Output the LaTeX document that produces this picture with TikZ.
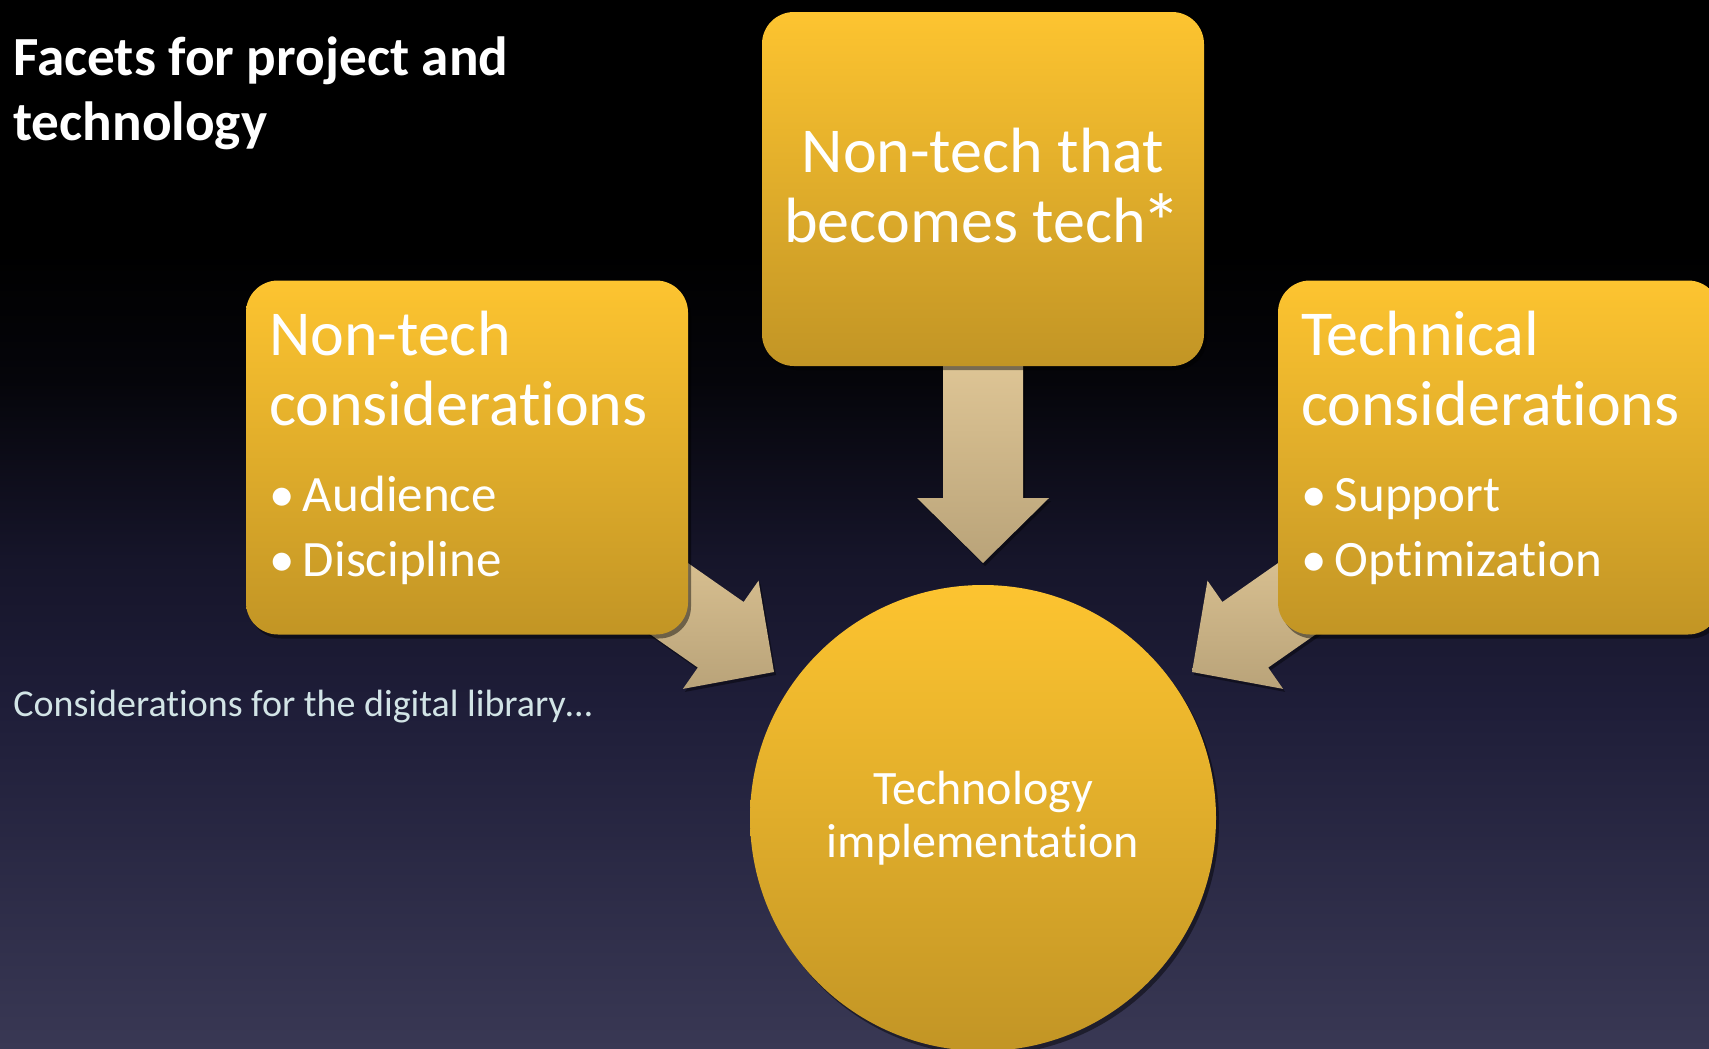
\documentclass[tikz,border=0pt]{standalone}
\usepackage{fontspec}
\setmainfont{Carlito}[Ligatures=NoCommon]
\usetikzlibrary{calc,shadows}
\pgfdeclarelayer{bg}
\pgfdeclarelayer{arr}
\pgfsetlayers{bg,arr,main}

\definecolor{goldtop}{RGB}{253,196,48}
\definecolor{goldbot}{RGB}{194,149,37}
\definecolor{tantop}{RGB}{222,197,149}
\definecolor{tanbot}{RGB}{185,163,121}
\definecolor{bgbot}{RGB}{57,56,84}
\definecolor{bgA}{RGB}{30,29,56}
\definecolor{bgB}{RGB}{22,21,42}
\definecolor{bgC}{RGB}{5,5,10}
\definecolor{subtext}{RGB}{210,228,230}
\pgfdeclareverticalshading{slidebg}{100bp}{color(0bp)=(bgbot); color(25bp)=(bgbot); color(41.6bp)=(bgA); color(48.3bp)=(bgB); color(56.9bp)=(bgC); color(63bp)=(black); color(100bp)=(black)}

\tikzset{
  facet/.style={rectangle, rounded corners=16pt, minimum width=221pt, minimum height=177pt,
    inner xsep=11.5pt, top color=goldtop, bottom color=goldbot, text=white,
    drop shadow={fill=black, opacity=.45, shadow xshift=1.5pt, shadow yshift=-2pt}},
  hub/.style={circle, minimum size=233pt, inner sep=0pt, top color=goldtop, bottom color=goldbot,
    text=white, drop shadow={fill=black, opacity=.45, shadow xshift=1.5pt, shadow yshift=-2pt}},
  arrowshade/.style={top color=tantop, bottom color=tanbot,
    drop shadow={fill=black, opacity=.4, shadow xshift=1pt, shadow yshift=-1.5pt}}
}
\newcommand\facethead{\fontsize{32}{35}\selectfont}
\newcommand\facetlist{\fontsize{25.5}{32.5}\selectfont}
\newcommand\facetitem[1]{\makebox[17pt][l]{\textbullet}#1}
\newcommand\fatarrow[2]{%
  \coordinate (head) at ($(#2)!32.5pt!(#1)$);
  \shade[arrowshade] ($(#1)!20pt!90:(#2)$) -- ($(head)!20pt!90:(#2)$) -- ($(head)!33pt!90:(#2)$)
    -- (#2) -- ($(head)!33pt!-90:(#2)$) -- ($(head)!20pt!-90:(#2)$) -- ($(#1)!20pt!-90:(#2)$) -- cycle;}

\begin{document}
\begin{tikzpicture}[x=0.5pt,y=-0.5pt]
        \useasboundingbox (0,0) rectangle (1709,1049);
        \begin{pgfonlayer}{bg}
        \shade[shading=slidebg] (0,0) rectangle (1709,1049);
        \end{pgfonlayer}
        \node[anchor=north west, inner sep=0pt, align=left, text=white,
          font=\fontsize{27.6}{32.5}\selectfont\bfseries] (title) at (13,36) {Facets for project and\\technology};
        \node[anchor=base west, inner sep=0pt, text=subtext,
          font=\fontsize{19}{23}\selectfont] (sub) at (13,716) {Considerations for the digital library…};
        \node[facet, text width=198pt, align=left] (ncons) at (467,457.5)
          {{\facethead Non-tech\\considerations\par}\vspace{10.5pt}%
           {\facetlist\facetitem{Audience}\\\facetitem{Discipline}\par}\vspace{10pt}};
        \node[facet, inner xsep=3pt, align=center, font=\facethead] (ntech) at (983,189)
          {Non-tech that\\becomes tech\kern-.06em\raisebox{-.12em}{\scalebox{1.25}{*}}};
        \node[facet, text width=198pt, align=left] (tcons) at (1499,457.5)
          {{\facethead Technical\\considerations\par}\vspace{10.5pt}%
           {\facetlist\facetitem{Support}\\\facetitem{Optimization}\par}\vspace{10pt}};
        \node[hub, align=center, font=\fontsize{24}{26.5}\selectfont] (impl) at (983,818) {Technology\\implementation};
        \coordinate (tipT) at (983,563);
        \coordinate (tipL) at (774,672);
        \coordinate (tipR) at (1192,672);
        \coordinate (tailT) at ([yshift=2pt]ntech.south);
        \coordinate (tailL) at ($(ncons)!0.5!(tipL)$);
        \coordinate (tailR) at ($(tcons)!0.5!(tipR)$);
        \begin{pgfonlayer}{arr}
        \fatarrow{tailT}{tipT}
        \fatarrow{tailL}{tipL}
        \fatarrow{tailR}{tipR}
        \end{pgfonlayer}
      \end{tikzpicture}
\end{document}
